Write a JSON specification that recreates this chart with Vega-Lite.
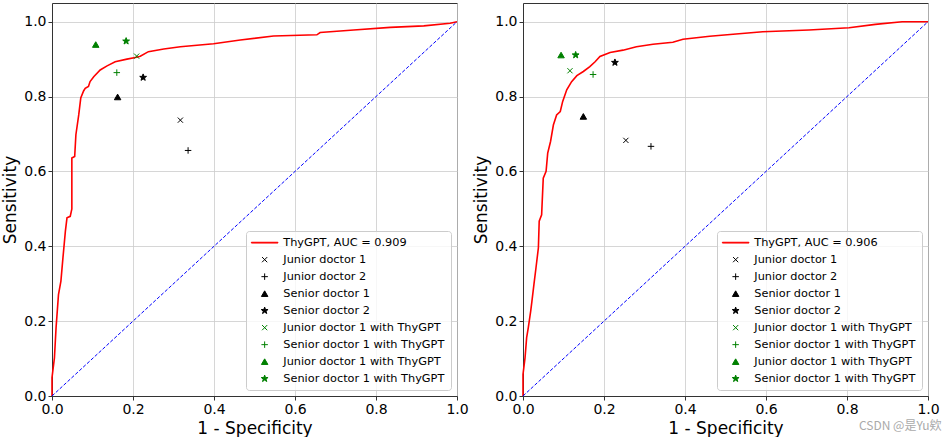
{
  "$schema": "https://vega.github.io/schema/vega-lite/v6.json",
  "padding": {"left": 1, "top": 2, "right": 0, "bottom": 0},
  "background": "white",
  "datasets": {
    "rocL": [
      {"x":0,"y":0},{"x":0,"y":0.049},{"x":0.006,"y":0.102},{"x":0.010,"y":0.182},{"x":0.016,"y":0.271},{"x":0.022,"y":0.307},{"x":0.027,"y":0.369},{"x":0.033,"y":0.44},{"x":0.037,"y":0.476},{"x":0.045,"y":0.48},{"x":0.049,"y":0.5},{"x":0.049,"y":0.636},{"x":0.056,"y":0.64},{"x":0.059,"y":0.698},{"x":0.066,"y":0.751},{"x":0.071,"y":0.796},{"x":0.078,"y":0.815},{"x":0.082,"y":0.822},{"x":0.090,"y":0.827},{"x":0.094,"y":0.84},{"x":0.103,"y":0.853},{"x":0.119,"y":0.871},{"x":0.136,"y":0.882},{"x":0.156,"y":0.893},{"x":0.185,"y":0.900},{"x":0.209,"y":0.905},{"x":0.218,"y":0.908},{"x":0.238,"y":0.92},{"x":0.276,"y":0.927},{"x":0.317,"y":0.933},{"x":0.399,"y":0.941},{"x":0.465,"y":0.951},{"x":0.547,"y":0.962},{"x":0.654,"y":0.965},{"x":0.662,"y":0.971},{"x":0.745,"y":0.978},{"x":0.835,"y":0.985},{"x":0.918,"y":0.989},{"x":0.983,"y":0.996},{"x":1,"y":1}
    ],
    "rocR": [
      {"x":0,"y":0},{"x":0,"y":0.058},{"x":0.005,"y":0.102},{"x":0.009,"y":0.156},{"x":0.013,"y":0.182},{"x":0.019,"y":0.227},{"x":0.022,"y":0.253},{"x":0.027,"y":0.298},{"x":0.032,"y":0.342},{"x":0.038,"y":0.396},{"x":0.040,"y":0.467},{"x":0.046,"y":0.484},{"x":0.050,"y":0.582},{"x":0.057,"y":0.6},{"x":0.061,"y":0.649},{"x":0.068,"y":0.68},{"x":0.075,"y":0.724},{"x":0.083,"y":0.751},{"x":0.092,"y":0.76},{"x":0.098,"y":0.787},{"x":0.108,"y":0.818},{"x":0.120,"y":0.84},{"x":0.133,"y":0.856},{"x":0.149,"y":0.867},{"x":0.165,"y":0.88},{"x":0.178,"y":0.893},{"x":0.190,"y":0.907},{"x":0.215,"y":0.918},{"x":0.247,"y":0.924},{"x":0.280,"y":0.933},{"x":0.321,"y":0.940},{"x":0.370,"y":0.945},{"x":0.395,"y":0.953},{"x":0.461,"y":0.961},{"x":0.526,"y":0.967},{"x":0.592,"y":0.973},{"x":0.706,"y":0.978},{"x":0.805,"y":0.984},{"x":0.870,"y":0.993},{"x":0.936,"y":1.0},{"x":1,"y":1}
    ],
    "diag": [{"x":0,"y":0},{"x":1,"y":1}],
    "ptsL": [
      {"s":"b|Junior doctor 1","x":0.317,"y":0.737},
      {"s":"c|Junior doctor 2","x":0.336,"y":0.656},
      {"s":"d|Senior doctor 1","x":0.162,"y":0.799},
      {"s":"e|Senior doctor 2","x":0.225,"y":0.851},
      {"s":"f|Junior doctor 1 with ThyGPT","x":0.209,"y":0.908},
      {"s":"g|Senior doctor 1 with ThyGPT","x":0.160,"y":0.864},
      {"s":"h|Junior doctor 1 with ThyGPT","x":0.108,"y":0.939},
      {"s":"i|Senior doctor 1 with ThyGPT","x":0.183,"y":0.948}
    ],
    "ptsR": [
      {"s":"b|Junior doctor 1","x":0.254,"y":0.683},
      {"s":"c|Junior doctor 2","x":0.316,"y":0.667},
      {"s":"d|Senior doctor 1","x":0.149,"y":0.747},
      {"s":"e|Senior doctor 2","x":0.227,"y":0.891},
      {"s":"f|Junior doctor 1 with ThyGPT","x":0.116,"y":0.869},
      {"s":"g|Senior doctor 1 with ThyGPT","x":0.173,"y":0.859},
      {"s":"h|Junior doctor 1 with ThyGPT","x":0.094,"y":0.911},
      {"s":"i|Senior doctor 1 with ThyGPT","x":0.130,"y":0.911}
    ]
  },
  "title": {"text": "CSDN @是Yu欸", "orient": "bottom", "anchor": "end", "fontSize": 12, "color": "#aaaaaa", "font": "Noto Sans CJK SC", "fontWeight": "normal", "offset": -16, "dx": 2},
  "spacing": 3,
  "resolve": {
    "scale": {"stroke": "independent", "fill": "independent", "shape": "independent"},
    "legend": {"stroke": "independent", "fill": "independent", "shape": "independent"}
  },
  "hconcat": [
    {
      "width": 405, "height": 393,
      "layer": [
        {"data": {"name": "rocL"}, "mark": {"type": "line", "color": "red", "strokeWidth": 1.6, "interpolate": "linear"},
         "encoding": {"x": {"field": "x", "type": "quantitative", "sort": null}, "y": {"field": "y", "type": "quantitative"}, "order": {"value": null}}},
        {"data": {"name": "diag"}, "mark": {"type": "line", "color": "blue", "strokeWidth": 1, "strokeDash": [3.5, 1.8]},
         "encoding": {"x": {"field": "x", "type": "quantitative"}, "y": {"field": "y", "type": "quantitative"}}},
        {"data": {"name": "ptsL"}, "mark": {"type": "point", "filled": false, "size": 42, "strokeWidth": 1, "opacity": 1},
         "encoding": {
           "x": {"field": "x", "type": "quantitative", "title": "1 - Specificity", "scale": {"domain": [0, 1], "nice": false}, "axis": {"values": [0, 0.2, 0.4, 0.6, 0.8, 1.0], "format": ".1f"}},
           "y": {"field": "y", "type": "quantitative", "title": "Sensitivity", "scale": {"domain": [0, 1.05], "nice": false}, "axis": {"values": [0, 0.2, 0.4, 0.6, 0.8, 1.0], "format": ".1f"}},
           "shape": {"field": "s", "type": "nominal",
             "scale": {"domain": ["a|ThyGPT, AUC = 0.909","b|Junior doctor 1","c|Junior doctor 2","d|Senior doctor 1","e|Senior doctor 2","f|Junior doctor 1 with ThyGPT","g|Senior doctor 1 with ThyGPT","h|Junior doctor 1 with ThyGPT","i|Senior doctor 1 with ThyGPT"],
               "range": ["M-4.1,-0.12H4.1V0.12H-4.1Z","M-0.8,-0.8L0.8,0.8M0.8,-0.8L-0.8,0.8","M-1,0H1M0,-1V1","triangle-up","M0,-1.1L0.26,-0.36L1.05,-0.34L0.42,0.14L0.65,0.89L0,0.44L-0.65,0.89L-0.42,0.14L-1.05,-0.34L-0.26,-0.36Z","M-0.8,-0.8L0.8,0.8M0.8,-0.8L-0.8,0.8","M-1,0H1M0,-1V1","triangle-up","M0,-1.1L0.26,-0.36L1.05,-0.34L0.42,0.14L0.65,0.89L0,0.44L-0.65,0.89L-0.42,0.14L-1.05,-0.34L-0.26,-0.36Z"]},
             "legend": {"labelExpr": "split(datum.label, '|')[1]"}},
           "stroke": {"field": "s", "type": "nominal",
             "scale": {"domain": ["a|ThyGPT, AUC = 0.909","b|Junior doctor 1","c|Junior doctor 2","d|Senior doctor 1","e|Senior doctor 2","f|Junior doctor 1 with ThyGPT","g|Senior doctor 1 with ThyGPT","h|Junior doctor 1 with ThyGPT","i|Senior doctor 1 with ThyGPT"],
               "range": ["red","black","black","black","black","green","green","green","green"]},
             "legend": {"labelExpr": "split(datum.label, '|')[1]"}},
           "fill": {"field": "s", "type": "nominal",
             "scale": {"domain": ["a|ThyGPT, AUC = 0.909","b|Junior doctor 1","c|Junior doctor 2","d|Senior doctor 1","e|Senior doctor 2","f|Junior doctor 1 with ThyGPT","g|Senior doctor 1 with ThyGPT","h|Junior doctor 1 with ThyGPT","i|Senior doctor 1 with ThyGPT"],
               "range": ["red","transparent","transparent","black","black","transparent","transparent","green","green"]},
             "legend": {"labelExpr": "split(datum.label, '|')[1]"}}
         }}
      ]
    },
    {
      "width": 405, "height": 393,
      "layer": [
        {"data": {"name": "rocR"}, "mark": {"type": "line", "color": "red", "strokeWidth": 1.6, "interpolate": "linear"},
         "encoding": {"x": {"field": "x", "type": "quantitative", "sort": null}, "y": {"field": "y", "type": "quantitative"}, "order": {"value": null}}},
        {"data": {"name": "diag"}, "mark": {"type": "line", "color": "blue", "strokeWidth": 1, "strokeDash": [3.5, 1.8]},
         "encoding": {"x": {"field": "x", "type": "quantitative"}, "y": {"field": "y", "type": "quantitative"}}},
        {"data": {"name": "ptsR"}, "mark": {"type": "point", "filled": false, "size": 42, "strokeWidth": 1, "opacity": 1},
         "encoding": {
           "x": {"field": "x", "type": "quantitative", "title": "1 - Specificity", "scale": {"domain": [0, 1], "nice": false}, "axis": {"values": [0, 0.2, 0.4, 0.6, 0.8, 1.0], "format": ".1f"}},
           "y": {"field": "y", "type": "quantitative", "title": "Sensitivity", "scale": {"domain": [0, 1.05], "nice": false}, "axis": {"values": [0, 0.2, 0.4, 0.6, 0.8, 1.0], "format": ".1f"}},
           "shape": {"field": "s", "type": "nominal",
             "scale": {"domain": ["a|ThyGPT, AUC = 0.906","b|Junior doctor 1","c|Junior doctor 2","d|Senior doctor 1","e|Senior doctor 2","f|Junior doctor 1 with ThyGPT","g|Senior doctor 1 with ThyGPT","h|Junior doctor 1 with ThyGPT","i|Senior doctor 1 with ThyGPT"],
               "range": ["M-4.1,-0.12H4.1V0.12H-4.1Z","M-0.8,-0.8L0.8,0.8M0.8,-0.8L-0.8,0.8","M-1,0H1M0,-1V1","triangle-up","M0,-1.1L0.26,-0.36L1.05,-0.34L0.42,0.14L0.65,0.89L0,0.44L-0.65,0.89L-0.42,0.14L-1.05,-0.34L-0.26,-0.36Z","M-0.8,-0.8L0.8,0.8M0.8,-0.8L-0.8,0.8","M-1,0H1M0,-1V1","triangle-up","M0,-1.1L0.26,-0.36L1.05,-0.34L0.42,0.14L0.65,0.89L0,0.44L-0.65,0.89L-0.42,0.14L-1.05,-0.34L-0.26,-0.36Z"]},
             "legend": {"labelExpr": "split(datum.label, '|')[1]"}},
           "stroke": {"field": "s", "type": "nominal",
             "scale": {"domain": ["a|ThyGPT, AUC = 0.906","b|Junior doctor 1","c|Junior doctor 2","d|Senior doctor 1","e|Senior doctor 2","f|Junior doctor 1 with ThyGPT","g|Senior doctor 1 with ThyGPT","h|Junior doctor 1 with ThyGPT","i|Senior doctor 1 with ThyGPT"],
               "range": ["red","black","black","black","black","green","green","green","green"]},
             "legend": {"labelExpr": "split(datum.label, '|')[1]"}},
           "fill": {"field": "s", "type": "nominal",
             "scale": {"domain": ["a|ThyGPT, AUC = 0.906","b|Junior doctor 1","c|Junior doctor 2","d|Senior doctor 1","e|Senior doctor 2","f|Junior doctor 1 with ThyGPT","g|Senior doctor 1 with ThyGPT","h|Junior doctor 1 with ThyGPT","i|Senior doctor 1 with ThyGPT"],
               "range": ["red","transparent","transparent","black","black","transparent","transparent","green","green"]},
             "legend": {"labelExpr": "split(datum.label, '|')[1]"}}
         }}
      ]
    }
  ],
  "config": {
    "view": {"stroke": "#333333", "strokeWidth": 1},
    "axis": {"labelFont": "DejaVu Sans", "labelFontSize": 14, "labelColor": "black", "titleFont": "DejaVu Sans", "titleFontSize": 17, "titleFontWeight": "normal", "titleColor": "black", "tickColor": "#333333", "domainColor": "#333333", "gridColor": "#cccccc", "gridWidth": 0.8, "tickSize": 4, "labelPadding": 2, "titlePadding": 4, "labelFlush": false, "labelOverlap": false, "labelBound": false, "grid": true},
    "legend": {"orient": "bottom-right", "offset": 6, "title": null, "labelFont": "DejaVu Sans", "labelFontSize": 11.3, "labelColor": "black", "labelLimit": 400, "symbolSize": 42, "symbolStrokeWidth": 1, "rowPadding": 5, "padding": 6, "labelOffset": 13, "symbolOffset": 7, "strokeColor": "#cccccc", "fillColor": "rgba(255,255,255,0.8)", "cornerRadius": 3, "symbolOpacity": 1}
  }
}
